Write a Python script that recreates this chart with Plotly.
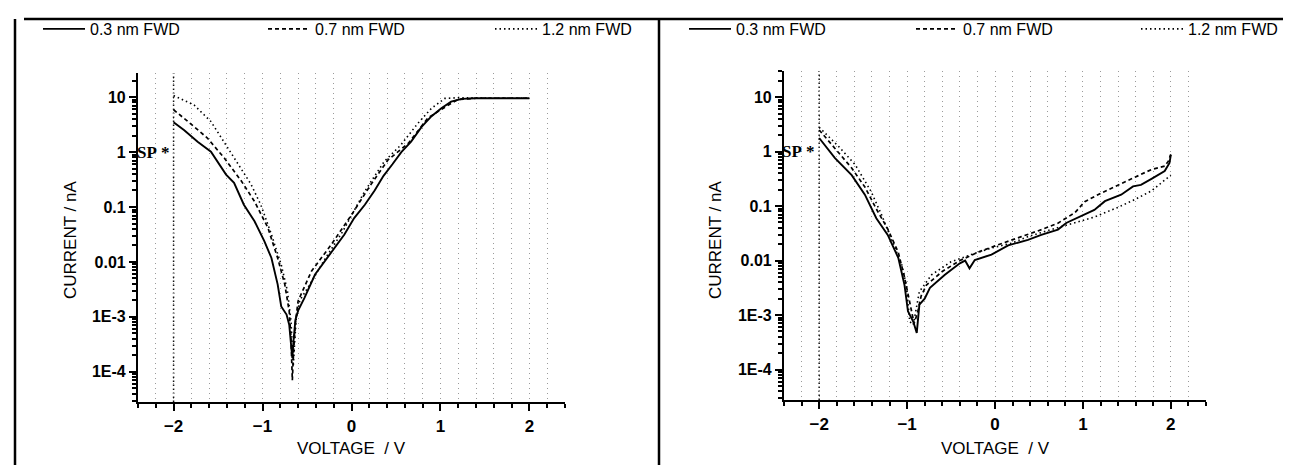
import plotly.graph_objects as go

# ---------------- data (current in nA) ----------------
left_03_v = [-2.00, -1.88, -1.73, -1.58, -1.41, -1.32, -1.21, -1.09, -0.98, -0.90, -0.83, -0.79, -0.73, -0.70,
             -0.68, -0.665, -0.65, -0.63, -0.60, -0.53, -0.41, -0.30, -0.19, -0.08, 0.03, 0.15, 0.26, 0.36,
             0.46, 0.56, 0.67, 0.79, 0.90, 1.01, 1.12, 1.24, 1.40, 1.60, 1.80, 2.00]
left_03_i = [3.5, 2.5, 1.55, 1.02, 0.39, 0.275, 0.11, 0.055, 0.024, 0.0118, 0.0039, 0.00155, 0.0011, 0.00072,
             0.00032, 0.000178, 0.0004, 0.00089, 0.0013, 0.0022, 0.0059, 0.0102, 0.0178, 0.0316, 0.063, 0.11,
             0.2, 0.37, 0.6, 1.0, 1.55, 2.9, 4.5, 6.3, 8.3, 9.3, 9.55, 9.55, 9.55, 9.55]

left_07_v = [-2.00, -1.90, -1.80, -1.62, -1.43, -1.24, -1.09, -0.94, -0.83, -0.75, -0.70, -0.68, -0.665,
             -0.65, -0.63, -0.60, -0.45, -0.23, 0.00, 0.22, 0.41, 0.64, 0.86, 1.09, 1.20, 1.40, 1.60, 1.80, 2.00]
left_07_i = [5.9, 4.4, 3.2, 1.8, 0.78, 0.3, 0.126, 0.042, 0.0118, 0.0039, 0.00126, 0.0004, 0.00007,
             0.00025, 0.0008, 0.00195, 0.0068, 0.0204, 0.072, 0.26, 0.72, 1.45, 4.2, 7.2, 9.1, 9.55, 9.55, 9.55, 9.55]

left_12_v = [-2.00, -1.77, -1.58, -1.41, -1.24, -1.13, -1.02, -0.90, -0.79, -0.72, -0.68, -0.655, -0.64,
             -0.62, -0.58, -0.49, -0.30, -0.10, 0.15, 0.37, 0.55, 0.75, 0.90, 1.05, 1.20, 1.40, 1.60, 1.80, 2.00]
left_12_i = [10.7, 7.2, 3.6, 1.35, 0.51, 0.26, 0.11, 0.0316, 0.0089, 0.00295, 0.00083, 0.000126, 0.00032,
             0.001, 0.002, 0.0034, 0.0112, 0.0355, 0.195, 0.68, 1.32, 3.4, 6.3, 9.5, 9.8, 9.6, 9.55, 9.55, 9.55]

right_03_v = [-2.00, -1.82, -1.63, -1.48, -1.35, -1.22, -1.10, -1.03, -0.99, -0.93, -0.89, -0.86, -0.80,
              -0.74, -0.57, -0.40, -0.34, -0.29, -0.23, -0.04, 0.15, 0.375, 0.526, 0.716, 0.81, 0.98, 1.13,
              1.25, 1.435, 1.57, 1.66, 1.78, 1.93, 1.985, 2.00]
right_03_i = [1.78, 0.76, 0.37, 0.162, 0.06, 0.0295, 0.0112, 0.0036, 0.00117, 0.00076, 0.00047, 0.00155,
              0.002, 0.00316, 0.0055, 0.0089, 0.01, 0.0072, 0.0102, 0.0129, 0.019, 0.024, 0.0295, 0.037,
              0.049, 0.065, 0.085, 0.123, 0.162, 0.23, 0.245, 0.316, 0.44, 0.62, 0.87]

right_07_v = [-2.00, -1.82, -1.63, -1.48, -1.35, -1.22, -1.10, -1.03, -0.97, -0.92, -0.88, -0.84, -0.78,
              -0.60, -0.40, -0.20, 0.00, 0.148, 0.30, 0.53, 0.72, 0.91, 1.02, 1.21, 1.40, 1.59, 1.78, 1.93,
              1.97, 2.00]
right_07_i = [2.5, 1.12, 0.5, 0.224, 0.089, 0.038, 0.0141, 0.005, 0.00158, 0.0007, 0.00112, 0.00224,
              0.00355, 0.0063, 0.01, 0.0141, 0.0186, 0.0229, 0.0275, 0.037, 0.049, 0.076, 0.12, 0.174,
              0.245, 0.34, 0.47, 0.54, 0.66, 0.89]

right_12_v = [-2.00, -1.78, -1.59, -1.41, -1.29, -1.18, -1.06, -1.01, -0.97, -0.93, -0.86, -0.72, -0.50,
              -0.27, -0.04, 0.19, 0.375, 0.60, 0.91, 1.13, 1.40, 1.59, 1.78, 1.93, 2.00]
right_12_i = [2.8, 1.25, 0.575, 0.186, 0.069, 0.0257, 0.0083, 0.0036, 0.00076, 0.00066, 0.0027, 0.0055,
              0.0095, 0.0129, 0.017, 0.0209, 0.0275, 0.0355, 0.05, 0.063, 0.095, 0.132, 0.19, 0.3, 0.37]

series_names = ["0.3 nm FWD", "0.7 nm FWD", "1.2 nm FWD"]
ytick_vals = [1e-4, 1e-3, 1e-2, 1e-1, 1, 10]
ytick_text = ["1E-4", "1E-3", "0.01", "0.1", "1", "10"]
xtick_vals = [-2, -1, 0, 1, 2]
sp_voltage = -2.0

# ---------------- styling ----------------
W, H = 1291, 465
SANS = "Liberation Sans, Arial, sans-serif"
SERIF = "Liberation Serif, Times New Roman, serif"
styles = [dict(color="black", width=1.9, dash="solid"),
          dict(color="black", width=1.7, dash="4px,3px"),
          dict(color="black", width=1.6, dash="1.5px,3px")]

fig = go.Figure()
panels = [
    ("x", "y", [(left_03_v, left_03_i), (left_07_v, left_07_i), (left_12_v, left_12_i)], ["legend", "legend2", "legend3"]),
    ("x2", "y2", [(right_03_v, right_03_i), (right_07_v, right_07_i), (right_12_v, right_12_i)], ["legend4", "legend5", "legend6"]),
]
for xa, ya, data, legs in panels:
    for k, (v, i) in enumerate(data):
        fig.add_trace(go.Scatter(x=v, y=i, mode="lines", name=series_names[k], line=styles[k],
                                 xaxis=xa, yaxis=ya, legend=legs[k], showlegend=True))

def px2x(p):
    return p / W

def py2y(p):
    return 1 - p / H

xcommon = dict(range=[-2.4, 2.4], tickvals=xtick_vals, ticks="outside", ticklen=7, tickwidth=2,
               tickcolor="black", showline=True, linewidth=2.2, linecolor="black", zeroline=False,
               showgrid=True, gridcolor="#9a9a9a", griddash="1px,4px", gridwidth=1,
               tickfont=dict(family=SANS, size=17, color="black", weight="bold"),
               minor=dict(dtick=0.2, tick0=0, ticks="outside", ticklen=4, tickwidth=1.5, tickcolor="black",
                          showgrid=True, gridcolor="#9a9a9a", griddash="1px,4px", gridwidth=1))
ycommon = dict(type="log", tickvals=ytick_vals, ticktext=ytick_text, ticks="outside", ticklen=7, tickwidth=2,
               tickcolor="black", showline=True, linewidth=2.2, linecolor="black", zeroline=False, showgrid=False,
               tickfont=dict(family=SANS, size=16, color="black", weight="bold"),
               minor=dict(dtick="D1", ticks="outside", ticklen=4, tickwidth=1.5, tickcolor="black", showgrid=False))

fig.update_layout(
    width=W, height=H, margin=dict(l=0, r=0, t=0, b=0),
    paper_bgcolor="white", plot_bgcolor="white",
    xaxis=dict(domain=[px2x(130), px2x(557)], anchor="y", **xcommon),
    yaxis=dict(domain=[py2y(394), py2y(65)], anchor="x", range=[-4.55, 1.44], **ycommon),
    xaxis2=dict(domain=[px2x(776), px2x(1198)], anchor="y2", **xcommon),
    yaxis2=dict(domain=[py2y(392), py2y(63)], anchor="x2", range=[-4.56, 1.48], **ycommon),
)

# legends: one per entry, placed along the top row (pixel x of each sample line start)
leg_x = [35, 260, 487, 681, 908, 1133]
leg_keys = ["legend", "legend2", "legend3", "legend4", "legend5", "legend6"]
for key, lx in zip(leg_keys, leg_x):
    fig.update_layout({key: dict(x=px2x(lx - 5), y=py2y(21), xanchor="left", yanchor="middle",
                                 orientation="h", bgcolor="rgba(0,0,0,0)", borderwidth=0, itemwidth=42,
                                 font=dict(family=SANS, size=16, color="black"))})

# dotted reference lines at the sweep start voltage and the SP marker
for xr, yr in [("x", "y"), ("x2", "y2")]:
    fig.add_shape(type="line", xref=xr, yref=yr + " domain", x0=sp_voltage, x1=sp_voltage, y0=0, y1=1,
                  line=dict(color="#111", width=1.5, dash="1.5px,2.5px"), layer="below")
    fig.add_annotation(xref=xr, yref=yr, x=sp_voltage - 0.02, y=0, text="<b>SP</b> <b>*</b>", showarrow=False,
                       xanchor="right", yanchor="middle", font=dict(family=SERIF, size=17, color="black"))

# axis titles
for xr, cx in [("x", 62), ("x2", 707)]:
    fig.add_annotation(xref=xr, yref="paper", x=0, y=py2y(440), text="VOLTAGE  / V", showarrow=False,
                       xanchor="center", yanchor="middle", font=dict(family=SANS, size=17, color="black"))
    fig.add_annotation(xref="paper", yref="paper", x=px2x(cx), y=py2y(232), text="CURRENT / nA",
                       textangle=-90, showarrow=False, xanchor="center", yanchor="middle",
                       font=dict(family=SANS, size=17, color="black"))

# frame lines of the scanned figure
frame = dict(color="black", width=2.5)
fig.add_shape(type="line", xref="paper", yref="paper", x0=px2x(7), x1=px2x(7), y0=0, y1=py2y(11), line=frame)
fig.add_shape(type="line", xref="paper", yref="paper", x0=px2x(651), x1=px2x(651), y0=0, y1=py2y(11), line=frame)
fig.add_shape(type="line", xref="paper", yref="paper", x0=px2x(16), x1=1, y0=py2y(11), y1=py2y(11), line=frame)

fig.write_html("out.html")
